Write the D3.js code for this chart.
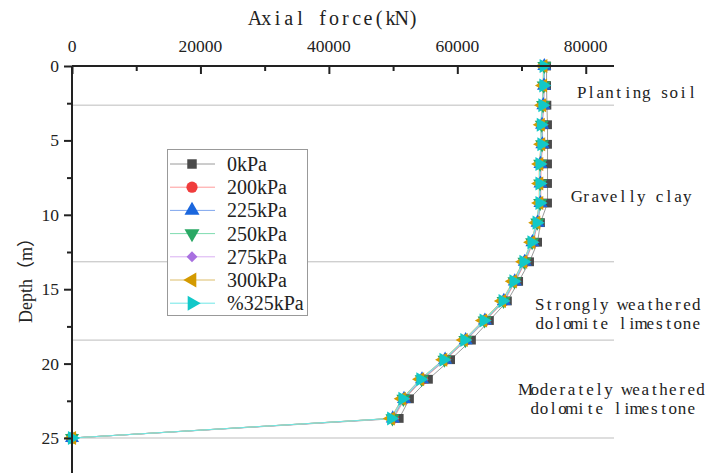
<!DOCTYPE html>
<html><head><meta charset="utf-8">
<script src="https://cdn.jsdelivr.net/npm/d3@7"></script>
<style>body{margin:0;background:#fff}svg{display:block}</style>
</head><body>
<svg id="c" width="710" height="473"></svg>
<script>
const depths = [0,1.316,2.632,3.947,5.263,6.579,7.895,9.211,10.526,11.842,13.158,14.474,15.789,17.105,18.421,19.737,21.053,22.368,23.684,25];
const f0   = [73900,73900,73950,74050,74050,74050,74050,74050,72950,72500,71250,69550,67800,65000,62200,58950,55500,52550,50950,0];
const f200 = [73600,73550,73450,73250,73300,73050,73000,73000,72550,71800,70600,69050,67350,64400,61400,58200,54650,51800,50100,0];
const f225 = [73550,73500,73400,73200,73250,72950,72950,72950,72500,71700,70500,68950,67250,64300,61300,58100,54500,51700,49950,0];
const f250 = [73550,73450,73350,73150,73200,72900,72900,72900,72450,71650,70450,68900,67200,64250,61250,58000,54450,51600,49900,0];
const f275 = [73500,73450,73300,73100,73150,72850,72850,72850,72400,71600,70400,68800,67100,64150,61150,57950,54350,51500,49800,0];
const f300 = [73400,73350,73200,73000,73050,72750,72750,72750,72300,71500,70250,68650,66950,64000,61000,57800,54200,51350,49650,0];
const f325 = [73450,73400,73250,73000,73100,72800,72800,72800,72350,71550,70300,68750,67050,64100,61100,57850,54250,51450,49700,0];
const seriesNames = ["0kPa","200kPa","225kPa","250kPa","275kPa","300kPa","%325kPa"];
const seriesValues = [f0,f200,f225,f250,f275,f300,f325];
const xTicks = [0,20000,40000,60000,80000];
const yTicks = [0,5,10,15,20,25];
const layerDepths = [2.632,13.158,18.421,25];
const layerLabels = [
  {lines:["Planting soil"], depth:1.75, x:637},
  {lines:["Gravelly clay"], depth:8.8, x:632},
  {lines:["Strongly weathered","dolomite limestone"], depth:16.7, x:618},
  {lines:["Moderately weathered","dolomite limestone"], depth:22.4, x:613}
];

const lineColors = ["#9a9a9a","#ff9a9a","#7fa6ee","#7fdcb0","#d9b0f2","#dcbd6a","#6ee6e6"];
const markColors = ["#4a4a4a","#f03c3c","#1a66dd","#2aa864","#a870e0","#d49a00","#12c8c8"];
const shapes = [
  {t:d3.symbolSquare, s:78, r:0},
  {t:d3.symbolCircle, s:85, r:0},
  {t:d3.symbolTriangle, s:85, r:0},
  {t:d3.symbolTriangle, s:85, r:180},
  {t:d3.symbolSquare, s:52, r:45},
  {t:d3.symbolTriangle, s:85, r:-90},
  {t:d3.symbolTriangle, s:85, r:90}
];

const svg = d3.select("#c");
const x = d3.scaleLinear().domain([0,84400]).range([72,614]);
const y = d3.scaleLinear().domain([0,25]).range([66,438]);
const serif = "'Liberation Serif','Times New Roman',serif";

// monospaced serif text (per-glyph pitch)
function monoText(cx, cy, str, pitch, size){
  const n = str.length;
  const xs = d3.range(n).map(i => (cx - n*pitch/2 + pitch/2 + i*pitch).toFixed(2)).join(" ");
  return svg.append("text").attr("x",xs).attr("y",cy)
    .attr("text-anchor","middle").attr("dominant-baseline","central")
    .attr("font-family",serif).attr("font-size",size).attr("fill","#222").text(str);
}

// layer lines
svg.append("g").selectAll("line").data(layerDepths).join("line")
  .attr("x1",x(0)).attr("x2",x(84400)).attr("y1",d=>y(d)).attr("y2",d=>y(d))
  .attr("stroke","#bdbdbd").attr("stroke-width",1);

// layer labels
layerLabels.forEach(l=>{
  const n=l.lines.length;
  l.lines.forEach((t,i)=>{
    monoText(l.x, y(l.depth)+(i-(n-1)/2)*19, t, 9.2, 17);
  });
});

// series
const lineGen = d3.line().x(d=>x(d[0])).y(d=>y(d[1]));
seriesValues.forEach((vals,k)=>{
  const pts = vals.map((v,i)=>[v,depths[i]]);
  svg.append("path").attr("d",lineGen(pts)).attr("fill","none")
    .attr("stroke",lineColors[k]).attr("stroke-width",1);
});
seriesValues.forEach((vals,k)=>{
  const pts = vals.map((v,i)=>[v,depths[i]]);
  const sh = shapes[k];
  svg.append("g").selectAll("path").data(pts).join("path")
    .attr("d",d3.symbol().type(sh.t).size(sh.s))
    .attr("transform",d=>`translate(${x(d[0])},${y(d[1])}) rotate(${sh.r})`)
    .attr("fill",markColors[k]);
});

// axes
const xAxis = d3.axisTop(x).tickValues(d3.range(0,84001,10000)).tickSize(-8).tickFormat("");
const gx = svg.append("g").attr("transform","translate(0,66)").call(xAxis);
gx.selectAll(".tick line").attr("y2",d=>d%20000===0?8:5);
gx.select(".domain").attr("d",`M${x(0)},0H${x(84400)}`);
gx.selectAll("path,line").attr("stroke","#222").attr("stroke-width",2);
svg.append("g").selectAll("text").data(xTicks).join("text")
  .attr("x",d=>x(d)).attr("y",52).attr("text-anchor","middle")
  .attr("font-family",serif).attr("font-size",17.5).attr("fill","#222").text(d=>d);

const yAxis = d3.axisLeft(y).tickValues(d3.range(0,27.6,2.5)).tickSize(8).tickFormat("");
const gy = svg.append("g").attr("transform","translate(72,0)").call(yAxis);
gy.selectAll(".tick line").attr("x2",d=>d%5===0?-8:-5);
gy.select(".domain").attr("d",`M0,${y(0)}V${y(28)}`);
gy.selectAll("path,line").attr("stroke","#222").attr("stroke-width",2);
svg.append("g").selectAll("text").data(yTicks).join("text")
  .attr("x",59).attr("y",d=>y(d)).attr("text-anchor","end").attr("dominant-baseline","central")
  .attr("font-family",serif).attr("font-size",17.5).attr("fill","#222").text(d=>d);

// titles
monoText(334, 18, "Axial force(kN)", 11.3, 20);
svg.append("text").attr("transform","translate(26,276) rotate(-90)").attr("text-anchor","middle")
  .attr("dominant-baseline","central").attr("font-family",serif+",'Noto Sans CJK SC'")
  .attr("font-size",18).attr("fill","#222").text("Depth（m）");

// legend
const lg = svg.append("g");
lg.append("rect").attr("x",167.5).attr("y",149.5).attr("width",140).attr("height",166)
  .attr("fill","#fff").attr("stroke","#999").attr("stroke-width",1);
seriesNames.forEach((nm,k)=>{
  const yy = 164 + k*23.2;
  lg.append("line").attr("x1",170).attr("x2",215).attr("y1",yy).attr("y2",yy)
    .attr("stroke",lineColors[k]).attr("stroke-width",1);
  const sh = shapes[k];
  lg.append("path").attr("d",d3.symbol().type(sh.t).size(sh.s*1.15)())
    .attr("transform",`translate(192,${yy}) rotate(${sh.r})`).attr("fill",markColors[k]);
  lg.append("text").attr("x",227).attr("y",yy).attr("dominant-baseline","central")
    .attr("font-family",serif).attr("font-size",20).attr("fill","#222").text(nm);
});
</script>
</body></html>
